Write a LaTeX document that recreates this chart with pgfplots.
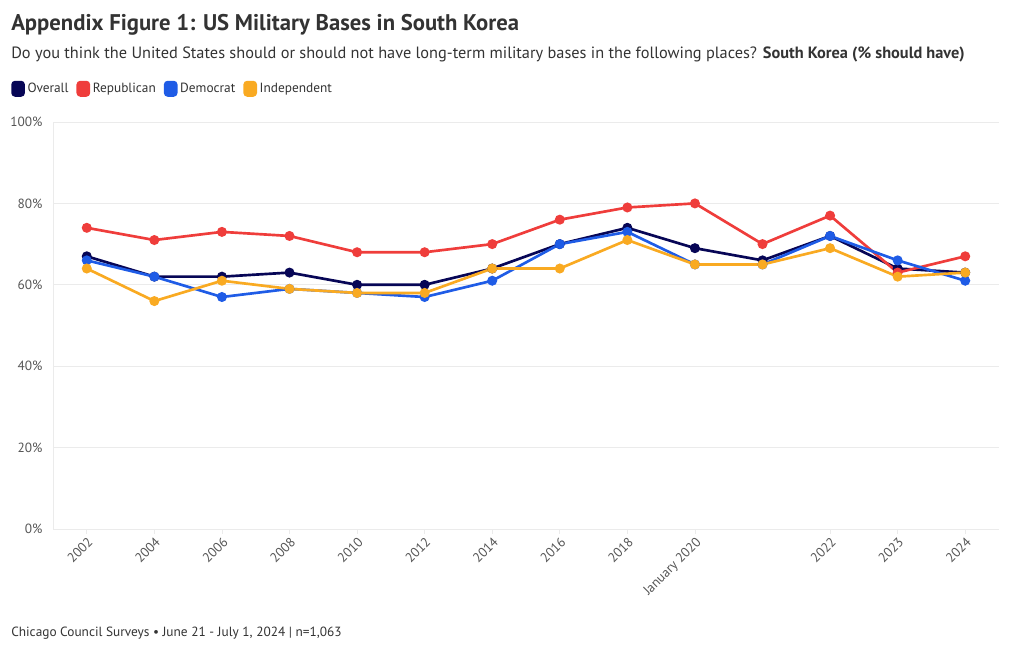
\documentclass[border=0pt]{standalone}
\usepackage{pgfplots}
\pgfplotsset{compat=1.18}
\usepackage{fontspec}
\setmainfont{PT Sans}
\definecolor{overall}{HTML}{070656}
\definecolor{rep}{HTML}{EF3D3B}
\definecolor{dem}{HTML}{1F5CE6}
\definecolor{ind}{HTML}{F9AA22}
\definecolor{txt}{HTML}{333333}
\definecolor{tickc}{HTML}{555555}
\definecolor{gridc}{HTML}{EBEBEB}

\begin{document}
\begin{tikzpicture}
\path[use as bounding box] (0,0) rectangle (765pt,487.5pt);

% titles, placed in pixel units from the top-left corner
\begin{scope}[x=0.75pt, y=-0.75pt, shift={(0pt,487.5pt)}]
\node[anchor=base west, inner sep=0, text=txt,
      font=\fontsize{17}{19}\selectfont\bfseries] at (11,31)
  {Appendix Figure 1: US Military Bases in South Korea};
\node[anchor=base west, inner sep=0, text=txt,
      font=\fontsize{12.25}{14}\selectfont] at (11,59)
  {Do you think the United States should or should not have long-term military bases in the following places? \textbf{South Korea (\% should have)}};
\node[anchor=base west, inner sep=0, text=txt,
      font=\fontsize{10}{12}\selectfont] at (11,636)
  {Chicago Council Surveys • June 21 - July 1, 2024 | n=1,063};
\end{scope}

\begin{axis}[
    at={(39.75pt,90.75pt)}, anchor=south west,
    scale only axis,
    width=709.5pt, height=305.25pt,
    xmin=-0.5, xmax=13.5,
    ymin=0, ymax=100,
    xtick={0,1,2,3,4,5,6,7,8,9,11,12,13},
    xticklabels={2002,2004,2006,2008,2010,2012,2014,2016,2018,January 2020,2022,2023,2024},
    ytick={0,20,40,60,80,100},
    yticklabel={\pgfmathprintnumber{\tick}\%},
    /pgf/number format/assume math mode=true,
    ymajorgrids, grid style={gridc, line width=0.6pt},
    axis lines*=left,
    axis line style={gridc, line width=0.6pt},
    tick align=outside,
    major tick length=3.75pt,
    xtick style={gridc, line width=0.6pt},
    ytick style={draw=none},
    ticklabel style={text=tickc, font=\fontsize{10}{11}\selectfont},
    xticklabel style={rotate=45, anchor=north east, inner sep=1pt},
    yticklabel style={inner sep=0pt, xshift=-4pt},
    every axis plot/.append style={line width=2pt, mark=*, mark size=2.7pt},
    legend columns=4,
    legend style={at={(-0.0444,1.103)}, anchor=north west, draw=none, fill=none,
        inner sep=0pt, font=\fontsize{10}{11}\selectfont, text=txt,
        /tikz/every even column/.append style={column sep=4pt}},
    legend image code/.code={\fill[#1, rounded corners=2pt] (0pt,-5pt) rectangle (8.25pt,5pt);},
]
\addplot[overall, mark options={fill=overall}] coordinates {
 (0,67) (1,62) (2,62) (3,63) (4,60) (5,60) (6,64) (7,70) (8,74) (9,69) (10,66) (11,72) (12,64) (13,63)};
\addplot[rep, mark options={fill=rep}] coordinates {
 (0,74) (1,71) (2,73) (3,72) (4,68) (5,68) (6,70) (7,76) (8,79) (9,80) (10,70) (11,77) (12,63) (13,67)};
\addplot[dem, mark options={fill=dem}] coordinates {
 (0,66) (1,62) (2,57) (3,59) (4,58) (5,57) (6,61) (7,70) (8,73) (9,65) (10,65) (11,72) (12,66) (13,61)};
\addplot[ind, mark options={fill=ind}] coordinates {
 (0,64) (1,56) (2,61) (3,59) (4,58) (5,58) (6,64) (7,64) (8,71) (9,65) (10,65) (11,69) (12,62) (13,63)};
\legend{Overall, Republican, Democrat, Independent}
\end{axis}
\end{tikzpicture}
\end{document}
